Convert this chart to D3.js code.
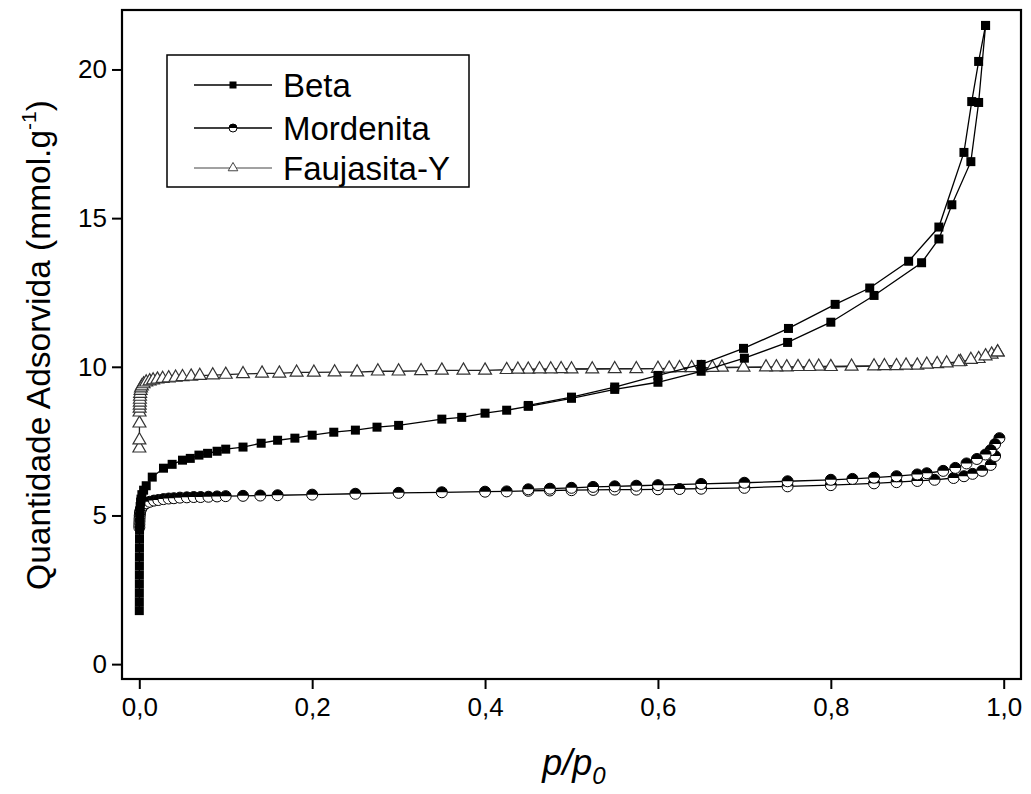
<!DOCTYPE html>
<html>
<head>
<meta charset="utf-8">
<script src="https://cdn.jsdelivr.net/npm/d3@7"></script>
<style>
  body { margin: 0; background: #fff; }
  svg { display: block; font-family: "Liberation Sans", Arial, sans-serif; }
</style>
</head>
<body>
<svg id="chart" width="1031" height="794"></svg>
<script>
// Beta - adsorption branch
const betaAdsP = [0.00002,0.00004,0.00006,0.00008,0.0001,0.00013,0.00016,0.0002,0.00025,0.0003,0.0004,0.0005,0.0007,0.001,0.0015,0.002,0.003,0.005,0.008,0.015,0.028,0.038,0.05,0.059,0.069,0.079,0.09,0.10,0.12,0.141,0.16,0.18,0.20,0.225,0.25,0.275,0.30,0.35,0.373,0.40,0.425,0.45,0.50,0.55,0.60,0.65,0.70,0.75,0.80,0.85,0.905,0.925,0.94,0.962,0.971,0.979]
const betaAdsQ = [1.8,2.1,2.4,2.7,3.0,3.3,3.6,3.9,4.2,4.5,4.75,4.95,5.15,5.3,5.45,5.55,5.7,5.85,6.0,6.29,6.59,6.72,6.86,6.92,7.03,7.09,7.16,7.23,7.3,7.43,7.53,7.6,7.7,7.8,7.87,7.97,8.03,8.24,8.3,8.44,8.54,8.67,8.94,9.24,9.48,9.85,10.29,10.82,11.5,12.4,13.5,14.3,15.45,16.9,18.89,21.48]
// Beta - desorption branch
const betaDesP = [0.979,0.971,0.963,0.954,0.925,0.89,0.845,0.805,0.751,0.699,0.65,0.60,0.55,0.50,0.45]
const betaDesQ = [21.48,20.27,18.92,17.21,14.7,13.55,12.65,12.1,11.29,10.62,10.08,9.71,9.32,8.98,8.7]

// Mordenita - adsorption / desorption
const morAdsP = [0.00005,0.0001,0.0002,0.0003,0.0005,0.0008,0.0012,0.002,0.003,0.005,0.008,0.012,0.017,0.022,0.028,0.034,0.04,0.047,0.055,0.063,0.071,0.08,0.09,0.1,0.12,0.14,0.16,0.2,0.25,0.3,0.35,0.4,0.425,0.45,0.475,0.5,0.525,0.55,0.575,0.6,0.625,0.65,0.7,0.75,0.8,0.85,0.876,0.9,0.92,0.942,0.954,0.964,0.975,0.985,0.99,0.995]
const morAdsQ = [4.6,4.7,4.8,4.9,5.0,5.08,5.15,5.22,5.28,5.35,5.41,5.46,5.5,5.52,5.55,5.57,5.58,5.6,5.61,5.62,5.62,5.63,5.64,5.65,5.66,5.67,5.68,5.7,5.73,5.76,5.78,5.8,5.81,5.83,5.84,5.85,5.86,5.87,5.87,5.88,5.89,5.9,5.93,5.98,6.02,6.08,6.12,6.16,6.2,6.26,6.32,6.4,6.5,6.7,7.0,7.6]
const morDesP = [0.99,0.985,0.979,0.969,0.957,0.944,0.93,0.911,0.9,0.876,0.85,0.825,0.8,0.75,0.7,0.65,0.6,0.575,0.55,0.525,0.5,0.475,0.45]
const morDesQ = [7.4,7.2,7.05,6.9,6.75,6.6,6.5,6.42,6.38,6.32,6.27,6.23,6.2,6.15,6.1,6.06,6.02,6.0,5.98,5.96,5.93,5.9,5.88]

// Faujasita-Y
const fauAdsP = [0.0001,0.00015,0.0002,0.0003,0.0004,0.0005,0.0006,0.0007,0.0008,0.001,0.0015,0.002,0.003,0.005,0.008,0.012,0.016,0.021,0.027,0.034,0.042,0.05,0.06,0.07,0.085,0.1,0.12,0.142,0.162,0.182,0.202,0.226,0.252,0.276,0.30,0.326,0.35,0.375,0.40,0.425,0.45,0.5,0.524,0.55,0.575,0.6,0.65,0.699,0.749,0.8,0.824,0.85,0.876,0.9,0.923,0.95,0.971,0.986,0.993]
const fauAdsQ = [7.26,7.53,8.1,8.47,8.6,8.7,8.8,8.9,9.0,9.1,9.2,9.28,9.35,9.42,9.48,9.52,9.55,9.58,9.6,9.62,9.64,9.66,9.68,9.7,9.72,9.74,9.76,9.78,9.78,9.81,9.81,9.82,9.82,9.85,9.85,9.86,9.88,9.88,9.88,9.9,9.91,9.92,9.92,9.93,9.93,9.94,9.96,9.98,9.99,10.0,10.01,10.02,10.03,10.05,10.1,10.17,10.27,10.42,10.49]
const fauDesP = [0.993,0.979,0.962,0.948,0.934,0.911,0.887,0.862,0.786,0.775,0.762,0.737,0.725,0.674,0.663,0.639,0.625,0.613,0.488,0.476,0.463,0.438]
const fauDesQ = [10.49,10.36,10.24,10.16,10.12,10.08,10.05,10.03,10.01,10.0,10.0,9.99,9.99,9.98,9.97,9.96,9.96,9.95,9.93,9.92,9.92,9.91]

const xTicks = [0, 0.2, 0.4, 0.6, 0.8, 1.0]
const yTicks = [0, 5, 10, 15, 20]
const seriesNames = ['Beta', 'Mordenita', 'Faujasita-Y']

const svg = d3.select('#chart')
const mLeft = 122, mRight = 1021, mTop = 10, mBottom = 679

const x = d3.scaleLinear().domain([-0.02, 1.02]).range([mLeft, mRight])
const y = d3.scaleLinear().domain([-0.5, 22]).range([mBottom, mTop])

const zip = (px, qy) => px.map((p, i) => ({p: p, q: qy[i]}))
const line = d3.line().x(d => x(d.p)).y(d => y(d.q))

// axes
const xAxis = d3.axisBottom(x).tickValues(xTicks).tickSize(10).tickSizeOuter(0).tickPadding(9)
  .tickFormat(d => d3.format('.1f')(d).replace('.', ','))
const yAxis = d3.axisLeft(y).tickValues(yTicks).tickSize(10).tickSizeOuter(0).tickPadding(5)

const gx = svg.append('g').attr('transform', `translate(0,${mBottom})`).call(xAxis)
const gy = svg.append('g').attr('transform', `translate(${mLeft},0)`).call(yAxis)
gx.select('.domain').remove()
gy.select('.domain').remove()
gx.selectAll('line').attr('stroke', '#000').attr('stroke-width', 2)
gy.selectAll('line').attr('stroke', '#000').attr('stroke-width', 2)
gx.selectAll('text').attr('font-size', 26).attr('fill', '#000').attr('font-family', '"Liberation Sans", Arial')
gy.selectAll('text').attr('font-size', 26).attr('fill', '#000').attr('font-family', '"Liberation Sans", Arial')

// half filled circle marker
function halfCircle(g, cx, cy, r) {
  g.append('circle').attr('cx', cx).attr('cy', cy).attr('r', r).attr('fill', '#fff').attr('stroke', '#000').attr('stroke-width', 1)
  g.append('path')
    .attr('d', `M${cx - r},${cy} A${r},${r} 0 0 1 ${cx + r},${cy} Z`)
    .attr('fill', '#000')
}

const plot = svg.append('g')

// Faujasita-Y
const fauG = plot.append('g')
fauG.append('path').datum(zip(fauAdsP, fauAdsQ)).attr('d', line).attr('fill', 'none').attr('stroke', '#222').attr('stroke-width', 1.3)
fauG.append('path').datum(zip(fauDesP, fauDesQ)).attr('d', line).attr('fill', 'none').attr('stroke', '#222').attr('stroke-width', 1.3)
const tri = d3.symbol().type(d3.symbolTriangle).size(72)
fauG.selectAll('path.m').data(zip(fauAdsP, fauAdsQ).concat(zip(fauDesP, fauDesQ))).enter()
  .append('path').attr('class', 'm').attr('d', tri)
  .attr('transform', d => `translate(${x(d.p)},${y(d.q)})`)
  .attr('fill', '#fff').attr('stroke', '#333').attr('stroke-width', 1.2)

// Mordenita
const morG = plot.append('g')
morG.append('path').datum(zip(morAdsP, morAdsQ)).attr('d', line).attr('fill', 'none').attr('stroke', '#000').attr('stroke-width', 1.3)
morG.append('path').datum(zip(morDesP, morDesQ)).attr('d', line).attr('fill', 'none').attr('stroke', '#000').attr('stroke-width', 1.3)
zip(morAdsP, morAdsQ).concat(zip(morDesP, morDesQ)).forEach(d => halfCircle(morG, x(d.p), y(d.q), 5.5))

// Beta
const betaG = plot.append('g')
betaG.append('path').datum(zip(betaAdsP, betaAdsQ)).attr('d', line).attr('fill', 'none').attr('stroke', '#000').attr('stroke-width', 1.3)
betaG.append('path').datum(zip(betaDesP, betaDesQ)).attr('d', line).attr('fill', 'none').attr('stroke', '#000').attr('stroke-width', 1.3)
betaG.selectAll('rect').data(zip(betaAdsP, betaAdsQ).concat(zip(betaDesP, betaDesQ))).enter()
  .append('rect').attr('x', d => x(d.p) - 4.5).attr('y', d => y(d.q) - 4.5)
  .attr('width', 9).attr('height', 9).attr('fill', '#000')

// frame
svg.append('rect').attr('x', mLeft).attr('y', mTop).attr('width', mRight - mLeft).attr('height', mBottom - mTop)
  .attr('fill', 'none').attr('stroke', '#000').attr('stroke-width', 2.2)

// legend
const lg = svg.append('g')
lg.append('rect').attr('x', 167).attr('y', 55).attr('width', 302).attr('height', 132)
  .attr('fill', '#fff').attr('stroke', '#000').attr('stroke-width', 1.5)
const rowY = [85, 128, 168]
seriesNames.forEach((name, i) => {
  const ry = rowY[i]
  lg.append('line').attr('x1', 194).attr('x2', 272).attr('y1', ry).attr('y2', ry)
    .attr('stroke', i === 2 ? '#444' : '#000').attr('stroke-width', i === 2 ? 1 : 1.3)
  if (i === 0) {
    lg.append('rect').attr('x', 229.5).attr('y', ry - 3.5).attr('width', 7).attr('height', 7).attr('fill', '#000')
  } else if (i === 1) {
    halfCircle(lg, 233, ry, 4)
  } else {
    lg.append('path').attr('d', d3.symbol().type(d3.symbolTriangle).size(40))
      .attr('transform', `translate(233,${ry})`).attr('fill', '#fff').attr('stroke', '#444').attr('stroke-width', 1)
  }
  lg.append('text').attr('x', 283).attr('y', ry).attr('dy', '0.35em')
    .attr('font-size', 33).attr('fill', '#000').text(name)
})

// axis titles
const yt = svg.append('text').attr('transform', 'translate(50,345) rotate(-90)')
  .attr('text-anchor', 'middle').attr('font-size', 33.5).attr('fill', '#000')
yt.append('tspan').text('Quantidade Adsorvida (mmol.g')
yt.append('tspan').attr('font-size', 21).attr('dy', -14).text('-1')
yt.append('tspan').attr('dy', 14).text(')')

const xt = svg.append('text').attr('x', 574).attr('y', 775).attr('text-anchor', 'middle')
  .attr('font-size', 36).attr('font-style', 'italic').attr('fill', '#000')
xt.append('tspan').text('p/p')
xt.append('tspan').attr('font-size', 24).attr('dy', 9).text('0')
</script>
</body>
</html>
